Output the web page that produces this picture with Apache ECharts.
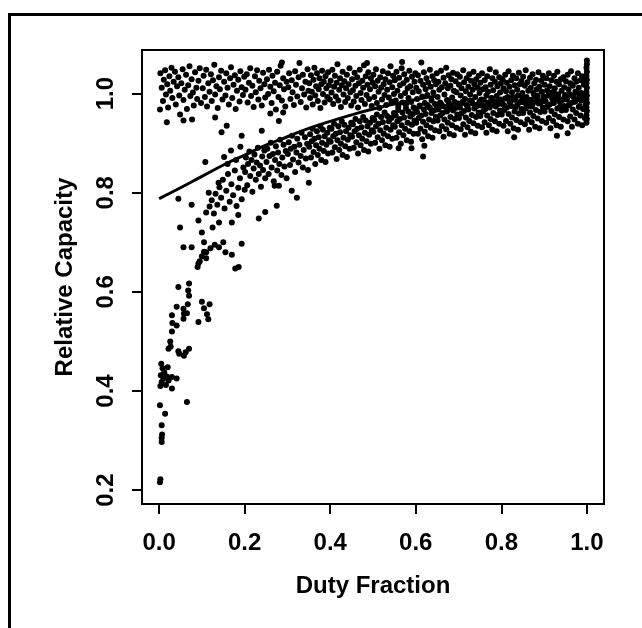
<!DOCTYPE html>
<html>
<head>
<meta charset="utf-8">
<script src="https://cdn.jsdelivr.net/npm/echarts@6/dist/echarts.min.js"></script>
<style>html,body{margin:0;padding:0;background:#fff;}#c{width:642px;height:628px;}</style>
</head>
<body>
<div id="c"></div>
<script>
// ---- data ----
var xTicks = [0.0, 0.2, 0.4, 0.6, 0.8, 1.0];
var yTicks = [0.2, 0.4, 0.6, 0.8, 1.0];
var xTitle = 'Duty Fraction';
var yTitle = 'Relative Capacity';

// upper band, capacity near 1.0
var upperBand = [
[0.003,1.041],[0.006,1.012],[0.009,0.985],[0.011,1.028],[0.014,1.047],[0.016,0.998],[0.019,1.019],[0.021,0.972],[0.024,1.035],[0.026,1.006],[0.029,1.052],[0.031,0.991],[0.034,1.024],[0.037,1.044],[0.039,0.978],[0.042,1.015],[0.045,1.033],[0.047,0.996],[0.049,0.958],[0.002,0.968],[0.018,0.942],
[0.052,1.021],[0.055,1.049],[0.057,0.987],[0.06,1.008],[0.063,1.038],[0.065,0.969],[0.068,1.017],[0.071,1.055],[0.073,0.995],[0.076,1.029],[0.079,1.002],[0.081,0.976],[0.084,1.043],[0.087,1.012],[0.089,0.989],[0.092,1.026],[0.095,1.051],[0.098,0.981],[0.077,0.948],[0.057,0.946],
[0.102,1.011],[0.104,1.036],[0.107,0.993],[0.11,1.048],[0.112,0.974],[0.115,1.021],[0.118,1.004],[0.121,1.039],[0.123,0.985],[0.126,1.027],[0.129,1.058],[0.131,0.998],[0.134,1.015],[0.137,0.971],[0.14,1.033],[0.142,1.009],[0.145,1.046],[0.148,0.988],[0.131,0.952],[0.146,0.922],
[0.152,1.024],[0.155,0.996],[0.157,1.041],[0.16,1.012],[0.163,0.978],[0.166,1.031],[0.168,1.053],[0.171,0.991],[0.174,1.018],[0.177,1.037],[0.179,0.969],[0.182,1.006],[0.185,1.028],[0.188,0.984],[0.19,1.045],[0.193,1.013],[0.196,0.997],[0.199,1.034],[0.158,0.935],[0.193,0.915],
[0.202,1.008],[0.205,1.039],[0.207,0.982],[0.21,1.022],[0.213,1.051],[0.215,0.995],[0.218,1.016],[0.221,0.973],[0.224,1.035],[0.226,1.003],[0.229,1.047],[0.232,0.988],[0.234,1.026],[0.237,1.011],[0.24,0.976],[0.243,1.042],[0.246,1.019],[0.248,0.992],[0.24,0.925],
[0.252,1.029],[0.255,0.999],[0.257,1.048],[0.26,1.014],[0.263,0.981],[0.265,1.036],[0.268,1.005],[0.271,1.022],[0.273,0.968],[0.276,1.044],[0.279,0.993],[0.282,1.017],[0.284,1.056],[0.287,0.986],[0.29,1.031],[0.292,1.009],[0.295,0.974],[0.298,1.024],[0.26,0.96],[0.28,0.945],[0.29,0.962],[0.287,1.063],
[0.302,1.013],[0.304,1.041],[0.307,0.989],[0.31,1.027],[0.312,1.003],[0.315,0.977],[0.318,1.045],[0.32,1.018],[0.323,0.994],[0.326,1.033],[0.328,1.062],[0.331,0.983],[0.334,1.011],[0.336,1.038],[0.339,0.998],[0.342,1.024],[0.344,0.972],[0.347,1.049],[0.349,1.006],
[0.351,1.021],[0.353,0.991],[0.355,1.037],[0.357,1.004],[0.359,0.978],[0.361,1.028],[0.363,1.052],[0.365,0.996],[0.367,1.015],[0.369,1.041],[0.371,0.985],[0.373,1.009],[0.375,1.031],[0.377,0.971],[0.379,1.019],[0.381,1.046],[0.383,0.999],[0.385,1.024],[0.387,0.982],[0.389,1.035],[0.391,1.011],[0.393,0.993],[0.395,1.043],[0.397,1.017],[0.399,0.988],
[0.401,1.026],[0.403,1.002],[0.405,1.048],[0.407,0.979],[0.409,1.014],[0.411,1.036],[0.413,0.994],[0.415,1.022],[0.417,1.059],[0.419,0.986],[0.421,1.008],[0.423,1.031],[0.425,0.973],[0.427,1.017],[0.429,1.044],[0.431,0.998],[0.433,1.025],[0.435,0.983],[0.437,1.011],[0.439,1.038],[0.441,0.991],[0.443,1.019],[0.445,1.051],[0.447,1.003],[0.449,0.976],
[0.451,1.029],[0.453,1.007],[0.455,0.984],[0.457,1.042],[0.459,1.016],[0.461,0.995],[0.463,1.033],[0.465,0.972],[0.467,1.021],[0.469,1.048],[0.471,1.001],[0.473,0.987],[0.475,1.026],[0.477,1.012],[0.479,1.057],[0.481,0.979],[0.483,1.035],[0.485,0.997],[0.487,1.018],[0.489,1.043],[0.491,0.989],[0.493,1.009],[0.495,1.031],[0.497,0.975],[0.499,1.022],[0.486,1.062],
[0.501,1.038],[0.503,0.993],[0.505,1.015],[0.507,1.049],[0.509,0.981],[0.511,1.026],[0.513,1.004],[0.515,0.971],[0.517,1.033],[0.519,1.012],[0.521,0.988],[0.523,1.045],[0.525,1.019],[0.527,0.997],[0.529,1.029],[0.531,0.977],[0.533,1.008],[0.535,1.041],[0.537,0.992],[0.539,1.023],[0.541,1.055],[0.543,0.984],[0.545,1.013],[0.547,1.036],[0.549,0.999],
[0.551,1.027],[0.553,0.986],[0.555,1.044],[0.557,1.006],[0.559,0.974],[0.561,1.032],[0.563,1.017],[0.565,0.995],[0.567,1.051],[0.569,0.982],[0.571,1.021],[0.573,1.039],[0.575,1.001],[0.577,0.978],[0.579,1.028],[0.581,1.011],[0.583,0.991],[0.585,1.046],[0.587,1.015],[0.589,0.983],[0.591,1.034],[0.593,1.003],[0.595,0.972],[0.597,1.024],[0.599,1.041],[0.568,1.064],
[0.601,1.012],[0.603,0.989],[0.605,1.037],[0.607,1.005],[0.609,0.976],[0.611,1.026],[0.613,1.063],[0.615,0.994],[0.617,1.018],[0.619,1.043],[0.621,0.981],[0.623,1.009],[0.625,1.031],[0.627,0.997],[0.629,1.022],[0.631,0.973],[0.633,1.048],[0.635,1.014],[0.637,0.986],[0.639,1.035],[0.641,1.002],[0.643,1.027],[0.645,0.979],[0.647,1.019],[0.649,1.041],
[0.651,0.993],[0.653,1.024],[0.655,1.008],[0.657,0.982],[0.659,1.046],[0.661,1.013],[0.663,0.975],[0.665,1.032],[0.667,0.998],[0.669,1.021],[0.671,1.052],[0.673,0.987],[0.675,1.011],[0.677,1.037],[0.679,0.971],[0.681,1.016],[0.683,1.029],[0.685,0.992],[0.687,1.042],[0.689,1.006],[0.691,0.983],[0.693,1.025],[0.695,1.003],[0.697,1.039],[0.699,0.978],
[0.701,1.018],[0.703,1.034],[0.705,0.996],[0.707,1.011],[0.709,0.981],[0.711,1.047],[0.713,1.023],[0.715,0.989],[0.717,1.005],[0.719,1.031],[0.721,0.974],[0.723,1.014],[0.725,1.039],[0.727,0.998],[0.729,1.026],[0.731,0.985],[0.733,1.008],[0.735,1.044],[0.737,1.019],[0.739,0.993],[0.741,1.029],[0.743,0.977],[0.745,1.012],[0.747,1.036],[0.749,1.001],
[0.751,1.022],[0.753,0.988],[0.755,1.041],[0.757,1.009],[0.759,0.975],[0.761,1.027],[0.763,1.013],[0.765,0.996],[0.767,1.035],[0.769,1.004],[0.771,0.982],[0.773,1.049],[0.775,1.018],[0.777,0.991],[0.779,1.031],[0.781,1.007],[0.783,0.978],[0.785,1.024],[0.787,1.043],[0.789,0.995],[0.791,1.015],[0.793,0.984],[0.795,1.033],[0.797,1.002],[0.799,1.021],
[0.801,0.987],[0.803,1.029],[0.805,1.011],[0.807,0.976],[0.809,1.038],[0.811,1.005],[0.813,1.022],[0.815,0.993],[0.817,1.045],[0.819,1.014],[0.821,0.981],[0.823,1.027],[0.825,1.003],[0.827,1.036],[0.829,0.989],[0.831,1.017],[0.833,0.972],[0.835,1.031],[0.837,1.008],[0.839,0.996],[0.841,1.042],[0.843,1.019],[0.845,0.983],[0.847,1.025],[0.849,1.001],
[0.851,1.034],[0.853,0.991],[0.855,1.016],[0.857,1.047],[0.859,0.979],[0.861,1.023],[0.863,1.006],[0.865,0.987],[0.867,1.032],[0.869,1.012],[0.871,0.974],[0.873,1.039],[0.875,1.001],[0.877,1.021],[0.879,0.985],[0.881,1.028],[0.883,1.009],[0.885,0.996],[0.887,1.043],[0.889,1.014],[0.891,0.981],[0.893,1.026],[0.895,1.004],[0.897,1.036],[0.899,0.992],
[0.901,1.018],[0.903,0.984],[0.905,1.031],[0.907,1.007],[0.909,0.976],[0.911,1.041],[0.913,1.015],[0.915,0.995],[0.917,1.027],[0.919,1.003],[0.921,0.982],[0.923,1.036],[0.925,1.011],[0.927,0.989],[0.929,1.024],[0.931,1.044],[0.933,0.998],[0.935,1.019],[0.937,0.973],[0.939,1.029],[0.941,1.006],[0.943,0.987],[0.945,1.033],[0.947,1.013],[0.949,0.994],
[0.951,1.025],[0.953,0.991],[0.955,1.038],[0.957,1.009],[0.959,0.978],[0.961,1.021],[0.963,1.045],[0.965,0.996],[0.967,1.016],[0.969,0.983],[0.971,1.031],[0.973,1.004],[0.975,1.024],[0.977,0.988],[0.979,1.041],[0.981,1.012],[0.983,0.975],[0.985,1.027],[0.987,1.001],[0.989,1.035],[0.991,0.993],[0.993,1.018],[0.995,1.029]
];

// rising lower branch at small duty fractions
var lowerRise = [
[0.002,0.216],[0.003,0.222],[0.006,0.297],[0.006,0.305],[0.007,0.312],[0.006,0.331],[0.002,0.371],[0.014,0.354],
[0.003,0.41],[0.006,0.418],[0.004,0.432],[0.01,0.425],[0.008,0.446],[0.012,0.438],[0.005,0.455],[0.016,0.412],[0.018,0.429],[0.02,0.448],[0.022,0.421],
[0.03,0.405],[0.03,0.428],[0.041,0.425],[0.065,0.378],
[0.022,0.485],[0.026,0.5],[0.027,0.49],[0.03,0.52],[0.031,0.537],[0.03,0.553],[0.041,0.532],[0.045,0.48],[0.047,0.475],[0.058,0.471],[0.07,0.485],[0.062,0.478],
[0.045,0.61],[0.041,0.57],[0.057,0.546],[0.058,0.556],[0.057,0.566],[0.065,0.557],[0.067,0.575],[0.07,0.592],[0.07,0.617],[0.068,0.603],
[0.092,0.539],[0.1,0.58],[0.105,0.567],[0.112,0.555],[0.118,0.575],[0.115,0.545],
[0.09,0.65],[0.095,0.662],[0.1,0.672],[0.105,0.681],[0.11,0.668],[0.092,0.657],[0.155,0.68],[0.17,0.675],[0.186,0.65],[0.178,0.647],
[0.108,0.862],[0.045,0.788],[0.076,0.776],[0.049,0.73],[0.057,0.69],[0.076,0.69],[0.092,0.744],[0.116,0.8],[0.139,0.82],[0.193,0.697],
[0.11,0.68],[0.12,0.688],[0.13,0.695],[0.14,0.69],[0.15,0.7],
[0.11,0.76],[0.118,0.772],[0.123,0.785],[0.128,0.758],[0.132,0.798],[0.136,0.776],[0.141,0.811],[0.145,0.79],[0.149,0.826],[0.153,0.768],[0.157,0.804],[0.161,0.838],[0.165,0.782],[0.169,0.817],[0.173,0.795],[0.177,0.845],[0.181,0.773],[0.185,0.81],[0.189,0.829],[0.193,0.787],[0.197,0.851],[0.2,0.806],[0.17,0.74],[0.185,0.755],[0.14,0.74],[0.125,0.73],[0.1,0.72],[0.105,0.7],
[0.152,0.872],[0.168,0.885],[0.19,0.893],[0.18,0.866],[0.16,0.858]
];

// lower band, saturating toward 1.0
var lowerBand = [
[0.201,0.842],[0.203,0.871],[0.206,0.815],[0.208,0.858],[0.211,0.883],[0.213,0.834],[0.216,0.866],[0.218,0.802],[0.221,0.849],[0.223,0.877],[0.226,0.826],[0.228,0.861],[0.231,0.891],[0.233,0.838],[0.236,0.855],[0.238,0.812],[0.241,0.873],[0.243,0.846],[0.246,0.885],[0.248,0.829],[0.233,0.748],[0.248,0.761],
[0.251,0.862],[0.253,0.889],[0.256,0.838],[0.258,0.874],[0.261,0.901],[0.263,0.851],[0.266,0.878],[0.268,0.823],[0.271,0.866],[0.273,0.894],[0.276,0.845],[0.278,0.881],[0.281,0.858],[0.283,0.907],[0.286,0.836],[0.288,0.871],[0.291,0.897],[0.293,0.853],[0.296,0.884],[0.298,0.829],[0.275,0.774],[0.27,0.814],[0.28,0.814],
[0.301,0.878],[0.303,0.902],[0.306,0.856],[0.308,0.889],[0.311,0.915],[0.313,0.867],[0.316,0.893],[0.318,0.842],[0.321,0.881],[0.323,0.909],[0.326,0.861],[0.328,0.897],[0.331,0.874],[0.333,0.921],[0.336,0.851],[0.338,0.886],[0.341,0.912],[0.343,0.869],[0.346,0.899],[0.348,0.846],[0.31,0.804],[0.322,0.79],[0.35,0.82],
[0.351,0.893],[0.353,0.918],[0.355,0.871],[0.357,0.904],[0.359,0.929],[0.361,0.882],[0.363,0.909],[0.365,0.858],[0.367,0.896],[0.369,0.924],[0.371,0.876],[0.373,0.912],[0.375,0.889],[0.377,0.934],[0.379,0.866],[0.381,0.901],[0.383,0.927],[0.385,0.884],[0.387,0.914],[0.389,0.862],[0.391,0.897],[0.393,0.921],[0.395,0.879],[0.397,0.906],[0.399,0.931],
[0.401,0.903],[0.403,0.929],[0.405,0.881],[0.407,0.914],[0.409,0.939],[0.411,0.892],[0.413,0.919],[0.415,0.868],[0.417,0.906],[0.419,0.934],[0.421,0.886],[0.423,0.922],[0.425,0.899],[0.427,0.944],[0.429,0.876],[0.431,0.911],[0.433,0.937],[0.435,0.894],[0.437,0.924],[0.439,0.872],[0.441,0.907],[0.443,0.931],[0.445,0.889],[0.447,0.916],[0.449,0.941],
[0.451,0.913],[0.453,0.938],[0.455,0.891],[0.457,0.924],[0.459,0.949],[0.461,0.902],[0.463,0.929],[0.465,0.879],[0.467,0.916],[0.469,0.944],[0.471,0.896],[0.473,0.932],[0.475,0.909],[0.477,0.953],[0.479,0.886],[0.481,0.921],[0.483,0.946],[0.485,0.904],[0.487,0.934],[0.489,0.883],[0.491,0.917],[0.493,0.941],[0.495,0.899],[0.497,0.926],[0.499,0.951],
[0.501,0.923],[0.503,0.947],[0.505,0.901],[0.507,0.934],[0.509,0.958],[0.511,0.912],[0.513,0.939],[0.515,0.889],[0.517,0.926],[0.519,0.953],[0.521,0.906],[0.523,0.942],[0.525,0.919],[0.527,0.962],[0.529,0.896],[0.531,0.931],[0.533,0.955],[0.535,0.914],[0.537,0.944],[0.539,0.893],[0.541,0.927],[0.543,0.951],[0.545,0.909],[0.547,0.936],[0.549,0.961],
[0.551,0.933],[0.553,0.956],[0.555,0.911],[0.557,0.944],[0.559,0.967],[0.561,0.922],[0.563,0.949],[0.565,0.899],[0.567,0.936],[0.569,0.962],[0.571,0.916],[0.573,0.952],[0.575,0.929],[0.577,0.971],[0.579,0.906],[0.581,0.941],[0.583,0.964],[0.585,0.924],[0.587,0.954],[0.589,0.903],[0.591,0.937],[0.593,0.959],[0.595,0.919],[0.597,0.946],[0.599,0.969],[0.56,0.89],
[0.601,0.941],[0.603,0.963],[0.605,0.919],[0.607,0.951],[0.609,0.974],[0.611,0.929],[0.613,0.956],[0.615,0.908],[0.617,0.943],[0.619,0.968],[0.621,0.923],[0.623,0.959],[0.625,0.936],[0.627,0.977],[0.629,0.914],[0.631,0.948],[0.633,0.971],[0.635,0.931],[0.637,0.961],[0.639,0.911],[0.641,0.944],[0.643,0.966],[0.645,0.926],[0.647,0.953],[0.649,0.975],[0.617,0.873],[0.62,0.895],[0.59,0.89],
[0.651,0.946],[0.653,0.968],[0.655,0.924],[0.657,0.956],[0.659,0.979],[0.661,0.934],[0.663,0.961],[0.665,0.913],[0.667,0.948],[0.669,0.973],[0.671,0.928],[0.673,0.964],[0.675,0.941],[0.677,0.982],[0.679,0.919],[0.681,0.953],[0.683,0.976],[0.685,0.936],[0.687,0.966],[0.689,0.916],[0.691,0.949],[0.693,0.971],[0.695,0.931],[0.697,0.958],[0.699,0.98],
[0.701,0.951],[0.703,0.972],[0.705,0.928],[0.707,0.96],[0.709,0.983],[0.711,0.938],[0.713,0.965],[0.715,0.917],[0.717,0.952],[0.719,0.977],[0.721,0.932],[0.723,0.968],[0.725,0.945],[0.727,0.986],[0.729,0.923],[0.731,0.957],[0.733,0.98],[0.735,0.94],[0.737,0.97],[0.739,0.92],[0.741,0.953],[0.743,0.975],[0.745,0.935],[0.747,0.962],[0.749,0.984],
[0.751,0.955],[0.753,0.976],[0.755,0.932],[0.757,0.964],[0.759,0.987],[0.761,0.942],[0.763,0.969],[0.765,0.921],[0.767,0.956],[0.769,0.981],[0.771,0.936],[0.773,0.972],[0.775,0.949],[0.777,0.99],[0.779,0.927],[0.781,0.961],[0.783,0.984],[0.785,0.944],[0.787,0.974],[0.789,0.924],[0.791,0.957],[0.793,0.979],[0.795,0.939],[0.797,0.966],[0.799,0.988],
[0.801,0.958],[0.803,0.979],[0.805,0.935],[0.807,0.967],[0.809,0.99],[0.811,0.945],[0.813,0.972],[0.815,0.924],[0.817,0.959],[0.819,0.984],[0.821,0.939],[0.823,0.975],[0.825,0.952],[0.827,0.993],[0.829,0.93],[0.831,0.964],[0.833,0.987],[0.835,0.947],[0.837,0.977],[0.839,0.927],[0.841,0.96],[0.843,0.982],[0.845,0.942],[0.847,0.969],[0.849,0.991],[0.83,0.912],
[0.851,0.961],[0.853,0.982],[0.855,0.938],[0.857,0.97],[0.859,0.993],[0.861,0.948],[0.863,0.975],[0.865,0.927],[0.867,0.962],[0.869,0.987],[0.871,0.942],[0.873,0.978],[0.875,0.955],[0.877,0.996],[0.879,0.933],[0.881,0.967],[0.883,0.99],[0.885,0.95],[0.887,0.98],[0.889,0.93],[0.891,0.963],[0.893,0.985],[0.895,0.945],[0.897,0.972],[0.899,0.994],
[0.901,0.964],[0.903,0.985],[0.905,0.941],[0.907,0.973],[0.909,0.996],[0.911,0.951],[0.913,0.978],[0.915,0.93],[0.917,0.965],[0.919,0.99],[0.921,0.945],[0.923,0.981],[0.925,0.958],[0.927,0.999],[0.929,0.936],[0.931,0.97],[0.933,0.993],[0.935,0.953],[0.937,0.983],[0.939,0.933],[0.941,0.966],[0.943,0.988],[0.945,0.948],[0.947,0.975],[0.949,0.997],[0.93,0.915],[0.955,0.92],
[0.951,0.967],[0.953,0.988],[0.955,0.944],[0.957,0.976],[0.959,0.999],[0.961,0.954],[0.963,0.981],[0.965,0.933],[0.967,0.968],[0.969,0.993],[0.971,0.948],[0.973,0.984],[0.975,0.961],[0.977,1.002],[0.979,0.939],[0.981,0.973],[0.983,0.996],[0.985,0.956],[0.987,0.986],[0.989,0.936],[0.991,0.969],[0.993,0.991],[0.995,0.951],[0.997,0.978]
];

// stack of points at full duty (x = 1)
var fullDuty = [
[0.999,0.941],[1.0,0.949],[0.999,0.957],[1.0,0.965],[0.999,0.972],[1.0,0.981],[0.999,0.988],[1.0,0.996],[0.999,1.004],[1.0,1.012],[0.999,1.021],[1.0,1.028],[0.999,1.036],[1.0,1.044],[0.999,1.052],[1.0,1.059],[1.0,1.067]
];

// fitted curve
var fitX = [0.0, 0.05, 0.10, 0.155, 0.20, 0.25, 0.30, 0.35, 0.40, 0.45, 0.50, 0.55, 0.60, 0.65];
var fitY = [0.788, 0.810, 0.833, 0.858, 0.876, 0.896, 0.913, 0.930, 0.944, 0.957, 0.969, 0.979, 0.988, 0.995];

var fitLine = fitX.map(function (x, i) { return [x, fitY[i]]; });
var allPoints = upperBand.concat(lowerRise, lowerBand, fullDuty);

var chart = echarts.init(document.getElementById('c'), null, {renderer: 'canvas'});
var font = '"Liberation Sans", Arial, Helvetica, sans-serif';
chart.setOption({
  animation: false,
  backgroundColor: '#ffffff',
  graphic: [{
    type: 'rect', left: 7, top: 12, z: 100, silent: true,
    shape: {x: 0, y: 0, width: 700, height: 700},
    style: {fill: 'none', stroke: '#000', lineWidth: 3}
  }],
  grid: {left: 142, top: 50, right: 38, bottom: 124, show: true, borderColor: '#000', borderWidth: 2, backgroundColor: 'transparent'},
  xAxis: {
    type: 'value', min: -0.04, max: 1.04,
    name: xTitle, nameLocation: 'middle', nameGap: 70,
    nameTextStyle: {fontFamily: font, fontSize: 24, fontWeight: 'bold', color: '#000'},
    axisLine: {show: true, onZero: false, lineStyle: {color: '#000', width: 2}},
    axisTick: {show: true, length: 10, inside: false, customValues: xTicks, lineStyle: {color: '#000', width: 2}},
    axisLabel: {customValues: xTicks, margin: 27, fontFamily: font, fontSize: 24, fontWeight: 'bold', color: '#000',
      formatter: function (v) { return v.toFixed(1); }},
    splitLine: {show: false}
  },
  yAxis: {
    type: 'value', min: 0.172, max: 1.088,
    name: yTitle, nameLocation: 'middle', nameGap: 65,
    nameTextStyle: {fontFamily: font, fontSize: 24, fontWeight: 'bold', color: '#000'},
    axisLine: {show: true, onZero: false, lineStyle: {color: '#000', width: 2}},
    axisTick: {show: true, length: 10, inside: false, customValues: yTicks, lineStyle: {color: '#000', width: 2}},
    axisLabel: {customValues: yTicks, rotate: 90, margin: 24, fontFamily: font, fontSize: 24, fontWeight: 'bold', color: '#000',
      formatter: function (v) { return v.toFixed(1); }},
    splitLine: {show: false}
  },
  series: [
    {type: 'scatter', data: allPoints, symbol: 'circle', symbolSize: 6, itemStyle: {color: '#000', opacity: 1}, silent: true},
    {type: 'line', data: fitLine, showSymbol: false, smooth: true, lineStyle: {color: '#000', width: 3}, silent: true, z: 3}
  ]
});
</script>
</body>
</html>
